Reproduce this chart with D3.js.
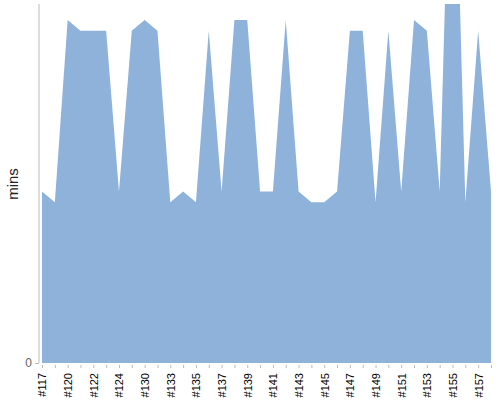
<!DOCTYPE html>
<html>
<head>
<meta charset="utf-8">
<script src="https://cdn.jsdelivr.net/npm/d3@7"></script>
<style>
  body { margin: 0; background: #fff; }
  svg { display: block; font-family: "Liberation Sans", Arial, sans-serif; }
</style>
</head>
<body>
<svg id="chart" width="500" height="400"></svg>
<script>
// build numbers, one per point (hidden-label ones are guesses)
const builds = ['#117', '#119', '#120', '#121', '#122', '#123', '#124', '#127', '#130', '#131',
  '#133', '#134', '#135', '#136', '#137', '#138', '#139', '#140', '#141', '#142',
  '#143', '#144', '#145', '#146', '#147', '#148', '#149', '#150', '#151', '#152',
  '#153', '#154', '#155', '#156', '#157', '#158'];
// duration in minutes
const mins = [16, 15, 32, 31, 31, 31, 16, 31, 32, 31,
  15, 16, 15, 31, 16, 32, 32, 16, 16, 32,
  16, 15, 15, 16, 31, 31, 15, 31, 16, 32,
  31, 16, 59, 15, 31, 16];
const yMax = 33.5;

const svg = d3.select('#chart');
const plotL = 42, plotR = 491, plotT = 4, plotB = 363;

const x = d3.scalePoint()
  .domain(builds)
  .range([plotL, plotR]);
const y = d3.scaleLinear()
  .domain([0, yMax])
  .range([plotB, plotT]);

svg.append('clipPath').attr('id', 'clip')
  .append('rect')
  .attr('x', plotL).attr('y', plotT)
  .attr('width', plotR - plotL).attr('height', plotB - plotT);

const area = d3.area()
  .x((d, i) => x(builds[i]))
  .y0(y(0))
  .y1(d => y(d));

svg.append('path')
  .datum(mins)
  .attr('clip-path', 'url(#clip)')
  .attr('fill', '#8fb2db')
  .attr('d', area);

// y axis
const yAxis = svg.append('g')
  .attr('transform', 'translate(39,0)')
  .call(d3.axisLeft(y).tickValues([0]).tickSize(4).tickPadding(3));
yAxis.select('.domain').attr('stroke', '#bbb').attr('d', `M0,${plotT}V${plotB}`);
yAxis.selectAll('.tick line').attr('stroke', '#bbb');
yAxis.selectAll('.tick text').attr('fill', '#666').attr('font-size', 12);

// x axis, label every other build
const xAxis = svg.append('g')
  .attr('transform', `translate(0,${plotB + 2})`)
  .call(d3.axisBottom(x)
    .tickSize(3)
    .tickFormat((d, i) => i % 2 === 0 ? d : ''));
xAxis.select('.domain').remove();
xAxis.selectAll('.tick line').attr('stroke', '#bbb');
xAxis.selectAll('.tick text')
  .attr('font-size', 11)
  .attr('fill', '#000')
  .attr('text-anchor', 'end')
  .attr('transform', 'rotate(-90)')
  .attr('x', -8)
  .attr('y', 0)
  .attr('dy', '0.35em');

svg.append('text')
  .attr('transform', 'translate(13,184) rotate(-90)')
  .attr('text-anchor', 'middle')
  .attr('dy', '0.35em')
  .attr('font-size', 15)
  .attr('fill', '#222')
  .text('mins');
</script>
</body>
</html>
